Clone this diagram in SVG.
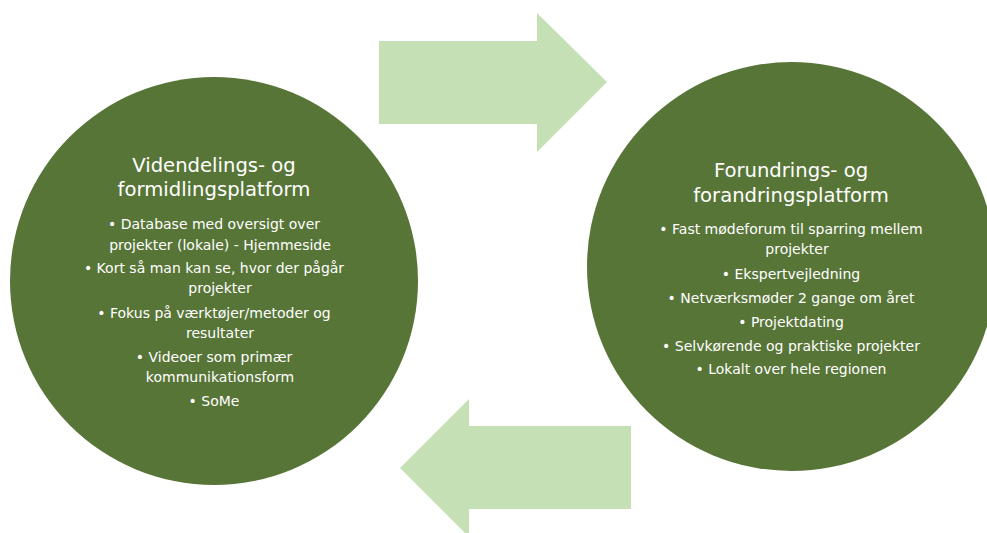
<svg xmlns="http://www.w3.org/2000/svg" width="987" height="533" viewBox="0 0 987 533">
<style>
.circle{fill:#587538}
.arrow{fill:#C5E0B4}
.title{font-family:"DejaVu Sans","Liberation Sans",sans-serif;font-size:19.6px;fill:#FFFFFF;text-anchor:middle}
.body{font-family:"DejaVu Sans","Liberation Sans",sans-serif;font-size:14px;fill:#FFFFFF;text-anchor:middle}
</style>
<rect width="987" height="533" fill="#FFFFFF"/>
<g id="connectors">
<polygon class="arrow" points="379,41 537,41 537,13 607,82 537,152 537,124 379,124"/>
<polygon class="arrow" points="631,426 469,426 469,399 400,468 469,537 469,509 631,509"/>
</g>
<g id="node-left">
<circle class="circle" cx="214" cy="281" r="204"/>
<text class="title" x="214" y="172">Videndelings- og</text>
<text class="title" x="214" y="196">formidlingsplatform</text>
<text class="body" x="214" y="229">• Database med oversigt over</text>
<text class="body" x="220" y="250">projekter (lokale) - Hjemmeside</text>
<text class="body" x="214" y="273">• Kort så man kan se, hvor der pågår</text>
<text class="body" x="220" y="293">projekter</text>
<text class="body" x="214" y="318">• Fokus på værktøjer/metoder og</text>
<text class="body" x="220" y="338">resultater</text>
<text class="body" x="214" y="362">• Videoer som primær</text>
<text class="body" x="220" y="382">kommunikationsform</text>
<text class="body" x="214" y="406">• SoMe</text>
</g>
<g id="node-right">
<circle class="circle" cx="791.5" cy="266.5" r="204.5"/>
<text class="title" x="791" y="177">Forundrings- og</text>
<text class="title" x="791" y="202">forandringsplatform</text>
<text class="body" x="791" y="234">• Fast mødeforum til sparring mellem</text>
<text class="body" x="797" y="254">projekter</text>
<text class="body" x="791" y="279">• Ekspertvejledning</text>
<text class="body" x="791" y="303">• Netværksmøder 2 gange om året</text>
<text class="body" x="791" y="327">• Projektdating</text>
<text class="body" x="791" y="351">• Selvkørende og praktiske projekter</text>
<text class="body" x="791" y="374">• Lokalt over hele regionen</text>
</g>
</svg>
